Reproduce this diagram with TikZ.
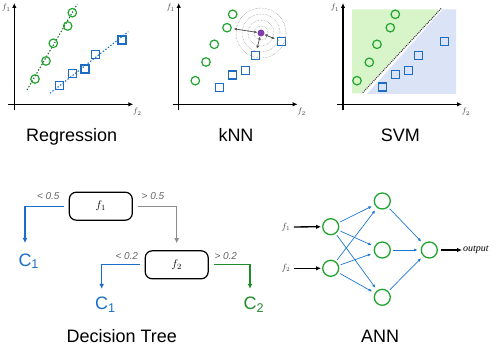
\documentclass[tikz,border=0pt]{standalone}
\usepackage{fontspec}
\setmainfont{Liberation Sans}
\newfontfamily\serifit{Liberation Serif}
\usetikzlibrary{arrows.meta}
\definecolor{ptgreen}{RGB}{34,165,48}
\definecolor{ptblue}{RGB}{28,108,196}
\definecolor{linegreen}{RGB}{30,110,50}
\definecolor{svmgreen}{RGB}{216,245,202}
\definecolor{svmblue}{RGB}{219,227,247}
\definecolor{qpurple}{RGB}{130,60,170}
\definecolor{dtblue}{RGB}{25,110,200}
\definecolor{dtgreen}{RGB}{30,140,40}
\definecolor{annblue}{RGB}{30,120,210}

\begin{document}
\begin{tikzpicture}[x=1pt,y=-1pt,
  axis/.style={-{Latex[length=5pt,width=4.5pt]},line width=1.4pt},
  feat/.style={font=\fontsize{8}{8}\selectfont,text=black!75,inner sep=1pt},
  title/.style={font=\fontsize{18}{20}\selectfont,text height=13pt,text depth=4pt},
  gpt/.style={circle,draw=ptgreen,line width=1.2pt,minimum size=8.5pt,inner sep=0pt},
  bpt/.style={rectangle,draw=ptblue,line width=1.3pt,minimum size=8pt,inner sep=0pt},
  fitline/.style={line width=1.1pt,dash pattern=on 1.4pt off 1.8pt},
  ring/.style={draw=black!45,densely dotted,line width=0.5pt},
  near/.style={{Latex[length=3pt,width=3pt]}-{Latex[length=3pt,width=3pt]},
    draw=black!65,line width=0.8pt,shorten >=2pt},
  dbox/.style={draw,rounded corners=7pt,line width=1.2pt,minimum width=63pt,
    minimum height=28pt,font=\fontsize{11}{11}\selectfont},
  leaf/.style={font=\fontsize{18}{20}\selectfont,text height=13pt,text depth=0pt,inner sep=2pt},
  cond/.style={font=\fontsize{10}{10}\selectfont\itshape,text=black!60},
  branch/.style={-{Latex[length=5pt,width=5pt]},line width=1.3pt,shorten <=5pt},
  neuron/.style={circle,draw=ptgreen,line width=1.3pt,minimum size=16pt,inner sep=0pt},
  link/.style={-{Latex[length=3.5pt,width=3pt]},draw=annblue,line width=0.7pt,
    shorten >=3pt,shorten <=2pt},
  feed/.style={-{Latex[length=5pt,width=4.5pt]},line width=1.3pt}]
\useasboundingbox (0,0) rectangle (498,347);
\foreach \ox/\name in {14.3/rg,178.7/kn,343/sv} {
  \draw[axis] (\ox,110) -- (\ox,3);
  \draw[axis] (\ox-6,104.3) -- (\ox+119,104.3);
  \node[feat] (\name-fa) at (\ox-8,8) {$f_1$};
  \node[feat] (\name-fb) at (\ox+123,112) {$f_2$};
}
\fill[svmgreen] (352,9.3) -- (440.3,9.3) -- (361.3,93.3) -- (352,93.3) -- cycle;
\fill[svmblue] (442.7,9.3) -- (456,9.3) -- (456,94) -- (367,94) -- cycle;
\draw[black!80,densely dotted,line width=1pt] (362.7,92.7) -- (441.3,8.3);
\draw[fitline,linegreen] (27,90) -- (77.3,4);
\draw[fitline,ptblue] (50,93.3) -- (128.3,31.7);
\foreach \x/\y [count=\i] in {35/79,46/61,53.3/43.3,67.7/26,72.3/12.7}
  \node[gpt] (rg-g\i) at (\x,\y) {};
\foreach \x/\y [count=\i] in {59.3/85.7,72.7/73.3,85/69,95.7/54.3,122/40}
  \node[bpt] (rg-b\i) at (\x,\y) {};
\foreach \x/\y [count=\i] in {195.3/80.7,206/62,214.3/44.3,227/27.7,232.7/14.3}
  \node[gpt] (kn-g\i) at (\x,\y) {};
\foreach \x/\y [count=\i] in {219.3/87.3,232.7/75,245.3/70.7,255.3/55.3,281.3/41.7}
  \node[bpt] (kn-b\i) at (\x,\y) {};
\foreach \x/\y [count=\i] in {357/80.7,369.3/62.3,377/44.3,390.3/27.7,395.3/14.3}
  \node[gpt] (sv-g\i) at (\x,\y) {};
\foreach \x/\y [count=\i] in {382.7/87,395.3/74.7,408.3/70.7,418.7/55.7,444.7/41.7}
  \node[bpt] (sv-b\i) at (\x,\y) {};
\node[circle,fill=qpurple,minimum size=7pt,inner sep=0pt] (query) at (261,33) {};
\foreach \r in {7,13,19,25}
  \draw[ring] (query) circle[radius=\r pt];
\draw[near] (query) -- (kn-g4);
\draw[near] (query) -- (kn-b4);
\draw[near] (query) -- (kn-b5);
\node[title] (t-rg) at (71.7,137) {Regression};
\node[title] (t-kn) at (236,137) {kNN};
\node[title] (t-sv) at (400.3,137) {SVM};

\node[dbox] (dt1) at (100.8,206.2) {$f_1$};
\node[dbox] (dt2) at (176.7,264.8) {$f_2$};
\node[leaf,text=dtblue] (c1a) at (25,259.7) {C\rlap{\textsubscript{1}}};
\node[leaf,text=dtblue] (c1b) at (101.7,303.5) {C\rlap{\textsubscript{1}}};
\node[leaf,text=dtgreen] (c2) at (250,303.5) {C\rlap{\textsubscript{2}}};
\draw[branch,dtblue,shorten >=8pt] (dt1.west) -| (c1a.north);
\draw[branch,black!45,shorten >=7pt] (dt1.east) -| (dt2.north);
\draw[branch,dtblue,shorten >=6pt] (dt2.west) -| (c1b.north);
\draw[branch,dtgreen,shorten >=6pt] (dt2.east) -| (c2.north);
\node[cond] (lt1) at (48.3,196) {< 0.5};
\node[cond] (gt1) at (153,196) {> 0.5};
\node[cond] (lt2) at (126.8,256) {< 0.2};
\node[cond] (gt2) at (225.8,256) {> 0.2};
\node[title] (t-dt) at (121.7,338) {Decision Tree};

\node[neuron] (in1) at (330.7,226.7) {};
\node[neuron] (in2) at (330.7,268.3) {};
\node[neuron] (hd1) at (382.3,201) {};
\node[neuron] (hd2) at (382.3,250) {};
\node[neuron] (hd3) at (382.3,297.3) {};
\node[neuron] (out) at (429.3,250) {};
\node[font=\fontsize{9}{9}\selectfont,text=black!75] (x1) at (286,227) {$f_1$};
\node[font=\fontsize{9}{9}\selectfont,text=black!75] (x2) at (286,268.3) {$f_2$};
\node[font=\fontsize{10}{10}\selectfont\serifit\itshape,anchor=west,inner sep=1pt] (y) at (462,250) {output};
\foreach \a in {1,2}
  \foreach \b in {1,2,3}
    \draw[link] (in\a) -- (hd\b);
\foreach \b in {1,2,3}
  \draw[link] (hd\b) -- (out);
\draw[feed,shorten >=1pt] (x1) -- (in1);
\draw[feed,shorten >=1pt] (x2) -- (in2);
\draw[feed,shorten <=3pt] (out) -- (y);
\node[title] (t-ann) at (380,338) {ANN};
\end{tikzpicture}
\end{document}
